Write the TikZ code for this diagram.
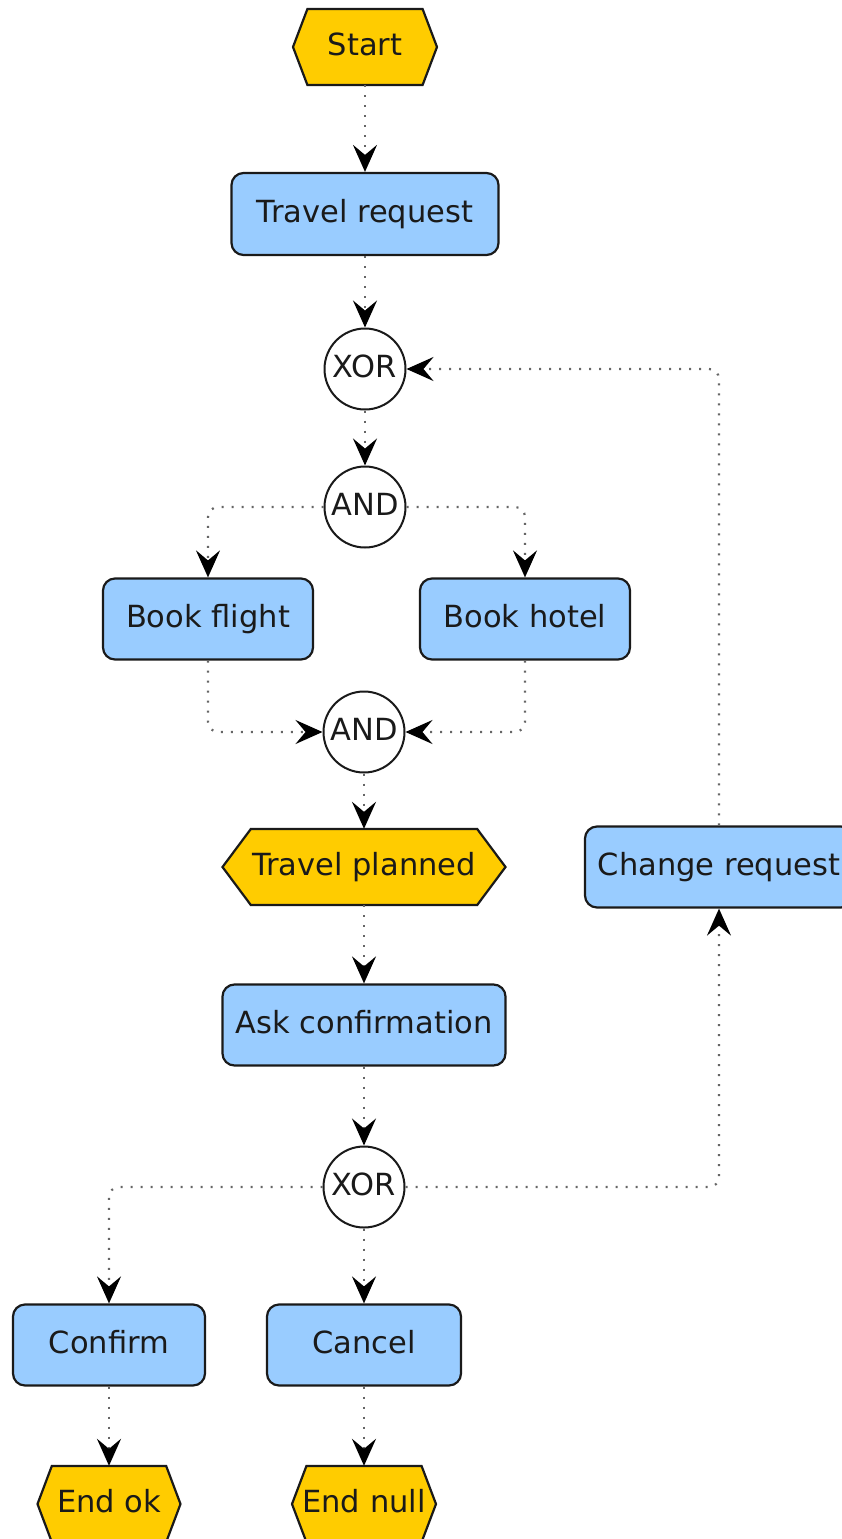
\documentclass[tikz,border=0pt]{standalone}
\usepackage{fontspec}
\setmainfont{DejaVu Sans}
\usetikzlibrary{arrows.meta}
\definecolor{boxblue}{HTML}{99CCFF}
\definecolor{evyellow}{HTML}{FFCC00}
\definecolor{ink}{HTML}{1A1A1A}
\definecolor{dotgray}{HTML}{666666}
\tikzset{
  txt/.style={font=\fontsize{30.5}{36}\selectfont, text=ink, text height=22pt, text depth=6pt},
  funcbox/.style={txt, draw=ink, line width=2.2pt, fill=boxblue, rounded corners=12pt, inner sep=0pt},
  gatecirc/.style={txt, circle, draw=ink, line width=2pt, fill=white, inner sep=0pt, minimum size=81pt},
  hexline/.style={draw=ink, line width=2.2pt, fill=evyellow, line join=miter},
  hextext/.style={txt, inner sep=0pt},
  conn/.style={draw=dotgray, line width=2.2pt, dash pattern=on 2pt off 8pt, rounded corners=10pt,
    -{Stealth[length=27pt, width=24pt, inset=10pt, black]}},
}
\newcommand\hexnode[6]{%
  \pgfmathsetmacro\hxA{#2-#4/2}%
  \pgfmathsetmacro\hxB{#2-#4/2+#4/10}%
  \pgfmathsetmacro\hxC{#2+#4/2-#4/10}%
  \pgfmathsetmacro\hxD{#2+#4/2}%
  \pgfmathsetmacro\hyA{#3-#5/2}%
  \pgfmathsetmacro\hyB{#3+#5/2}%
  \draw[hexline] (\hxA,#3) -- (\hxB,\hyA) -- (\hxC,\hyA) -- (\hxD,#3) -- (\hxC,\hyB) -- (\hxB,\hyB) -- cycle;
  \node[hextext, minimum width=#4pt, minimum height=#5pt] (#1) at (#2,#3) {#6};
}
\begin{document}
\begin{tikzpicture}[x=1pt,y=-1pt]
\useasboundingbox (0,0) rectangle (842,1539);
\begin{scope}
\clip (0,0) rectangle (842,1539);
\hexnode{start}{365}{47}{144}{76}{Start}
\node[funcbox, minimum width=267pt, minimum height=82pt] (treq) at (365,214) {Travel request};
\node[gatecirc] (xor1) at (365,369) {XOR};
\node[gatecirc] (and1) at (365,507) {AND};
\node[funcbox, minimum width=210pt, minimum height=81pt] (flight) at (208,619) {Book flight};
\node[funcbox, minimum width=210pt, minimum height=81pt] (hotel) at (525,619) {Book hotel};
\node[gatecirc] (and2) at (364,732) {AND};
\hexnode{planned}{364}{867}{283}{76}{Travel planned}
\node[funcbox, minimum width=268pt, minimum height=81pt] (change) at (719,867) {Change request};
\node[funcbox, minimum width=283pt, minimum height=81pt] (ask) at (364,1025) {Ask confirmation};
\node[gatecirc] (xor2) at (364,1187) {XOR};
\node[funcbox, minimum width=192pt, minimum height=81pt] (confirm) at (109,1345) {Confirm};
\node[funcbox, minimum width=194pt, minimum height=81pt] (cancel) at (364,1345) {Cancel};
\hexnode{endok}{109}{1504}{143}{76}{End ok}
\hexnode{endnull}{364}{1504}{144}{76}{End null}

\draw[conn] (start) -- (treq);
\draw[conn] (treq) -- (xor1);
\draw[conn] (xor1) -- (and1);
\draw[conn] (and1.west) -| (flight.north);
\draw[conn] (and1.east) -| (hotel.north);
\draw[conn] (flight.south) |- (and2.west);
\draw[conn] (hotel.south) |- (and2.east);
\draw[conn] (and2) -- (planned);
\draw[conn] (planned) -- (ask);
\draw[conn] (ask) -- (xor2);
\draw[conn] (xor2.west) -| (confirm.north);
\draw[conn] (xor2) -- (cancel);
\draw[conn] (xor2.east) -| (change.south);
\draw[conn] (change.north) |- (xor1.east);
\draw[conn] (confirm) -- (endok);
\draw[conn] (cancel) -- (endnull);
\end{scope}
\end{tikzpicture}
\end{document}
